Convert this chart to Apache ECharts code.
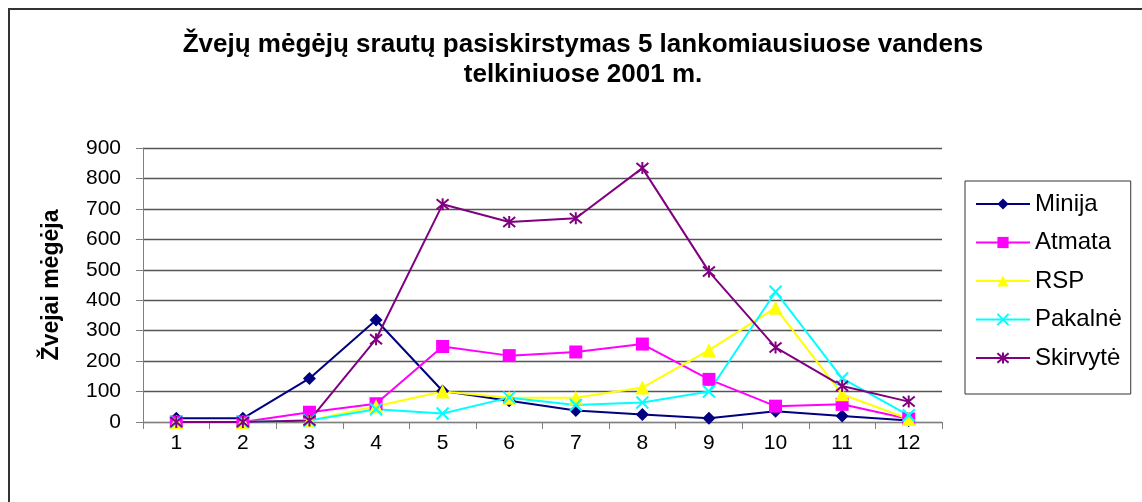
<!DOCTYPE html>
<html><head><meta charset="utf-8">
<script src="https://cdn.jsdelivr.net/npm/echarts@6/dist/echarts.min.js"></script>
<style>html,body{margin:0;padding:0;background:#fff}#c{width:1142px;height:502px}</style>
</head><body><div id="c"></div>
<script>
const months = ['1','2','3','4','5','6','7','8','9','10','11','12'];
const minija   = [12, 12, 143, 335, 102, 70, 38, 25, 12, 35, 20, 5];
const atmata   = [0, 0, 32, 60, 248, 218, 230, 256, 140, 52, 58, 10];
const rsp      = [0, 0, 5, 52, 100, 80, 80, 113, 236, 375, 91, 10];
const pakalne  = [0, 0, 5, 42, 28, 80, 56, 64, 100, 428, 143, 22];
const skirvyte = [0, 0, 5, 272, 715, 657, 669, 834, 494, 245, 118, 67];
const yTicks = [0, 100, 200, 300, 400, 500, 600, 700, 800, 900];

const font = 'Arial, "Liberation Sans", sans-serif';
const crossPath = 'path://M0,0L10,10M10,0L0,10';
const starPath = 'path://M0,0L10,10M10,0L0,10M5,-1L5,11';

function mk(name, data, color, symbol, size, stroke) {
  return {
    name, type: 'line', data, symbol, symbolSize: size,
    lineStyle: { color, width: 2 },
    itemStyle: stroke ? { color: 'none', borderColor: color, borderWidth: 2 } : { color, borderColor: color, borderWidth: 0 },
    emphasis: { disabled: true }, animation: false
  };
}

const chart = echarts.init(document.getElementById('c'));
chart.setOption({
  animation: false,
  title: {
    text: 'Žvejų mėgėjų srautų pasiskirstymas 5 lankomiausiuose vandens\ntelkiniuose 2001 m.',
    left: 578, top: 25, textAlign: 'center',
    textStyle: { fontFamily: font, fontWeight: 'bold', fontSize: 26, lineHeight: 30, color: '#000' }
  },
  graphic: [
    { type: 'rect', shape: { x: 9, y: 9, width: 1300, height: 700 }, style: { fill: 'none', stroke: '#333', lineWidth: 2 }, z: -1 }
  ],
  grid: { left: 143, right: 200, top: 148, bottom: 80 },
  legend: {
    orient: 'vertical', left: 965, top: 181,
    padding: [11, 9, 24, 10],
    itemWidth: 54, itemHeight: 14, itemGap: 14.5,
    borderColor: '#333', borderWidth: 1,
    textStyle: { fontFamily: font, fontSize: 24, color: '#000' },
    data: ['Minija', 'Atmata', 'RSP', 'Pakalnė', 'Skirvytė']
  },
  xAxis: {
    type: 'category', data: months, boundaryGap: true,
    axisLine: { lineStyle: { color: '#808080', width: 1 } },
    axisTick: { show: true, alignWithLabel: false, length: 7, lineStyle: { color: '#808080' } },
    axisLabel: { fontFamily: font, fontSize: 21, color: '#000', margin: 11 }
  },
  yAxis: {
    type: 'value', min: 0, max: 900, interval: 100,
    name: 'Žvejai mėgėja', nameLocation: 'middle', nameGap: 80, nameRotate: 90,
    nameTextStyle: { fontFamily: font, fontWeight: 'bold', fontSize: 23, color: '#000' },
    axisLine: { show: true, lineStyle: { color: '#808080', width: 1 } },
    axisTick: { show: true, length: 7, lineStyle: { color: '#808080' } },
    axisLabel: { fontFamily: font, fontSize: 21, color: '#000', margin: 22,
      formatter: v => yTicks.includes(v) ? String(v) : '' },
    splitLine: { show: true, lineStyle: { color: '#555', width: 1.3 } }
  },
  series: [
    mk('Minija', minija, '#000080', 'diamond', 13, false),
    mk('Atmata', atmata, '#FF00FF', 'rect', 13, false),
    mk('RSP', rsp, '#FFFF00', 'triangle', 14, false),
    mk('Pakalnė', pakalne, '#00FFFF', crossPath, 12, true),
    mk('Skirvytė', skirvyte, '#800080', starPath, 12, true)
  ]
});
</script></body></html>
